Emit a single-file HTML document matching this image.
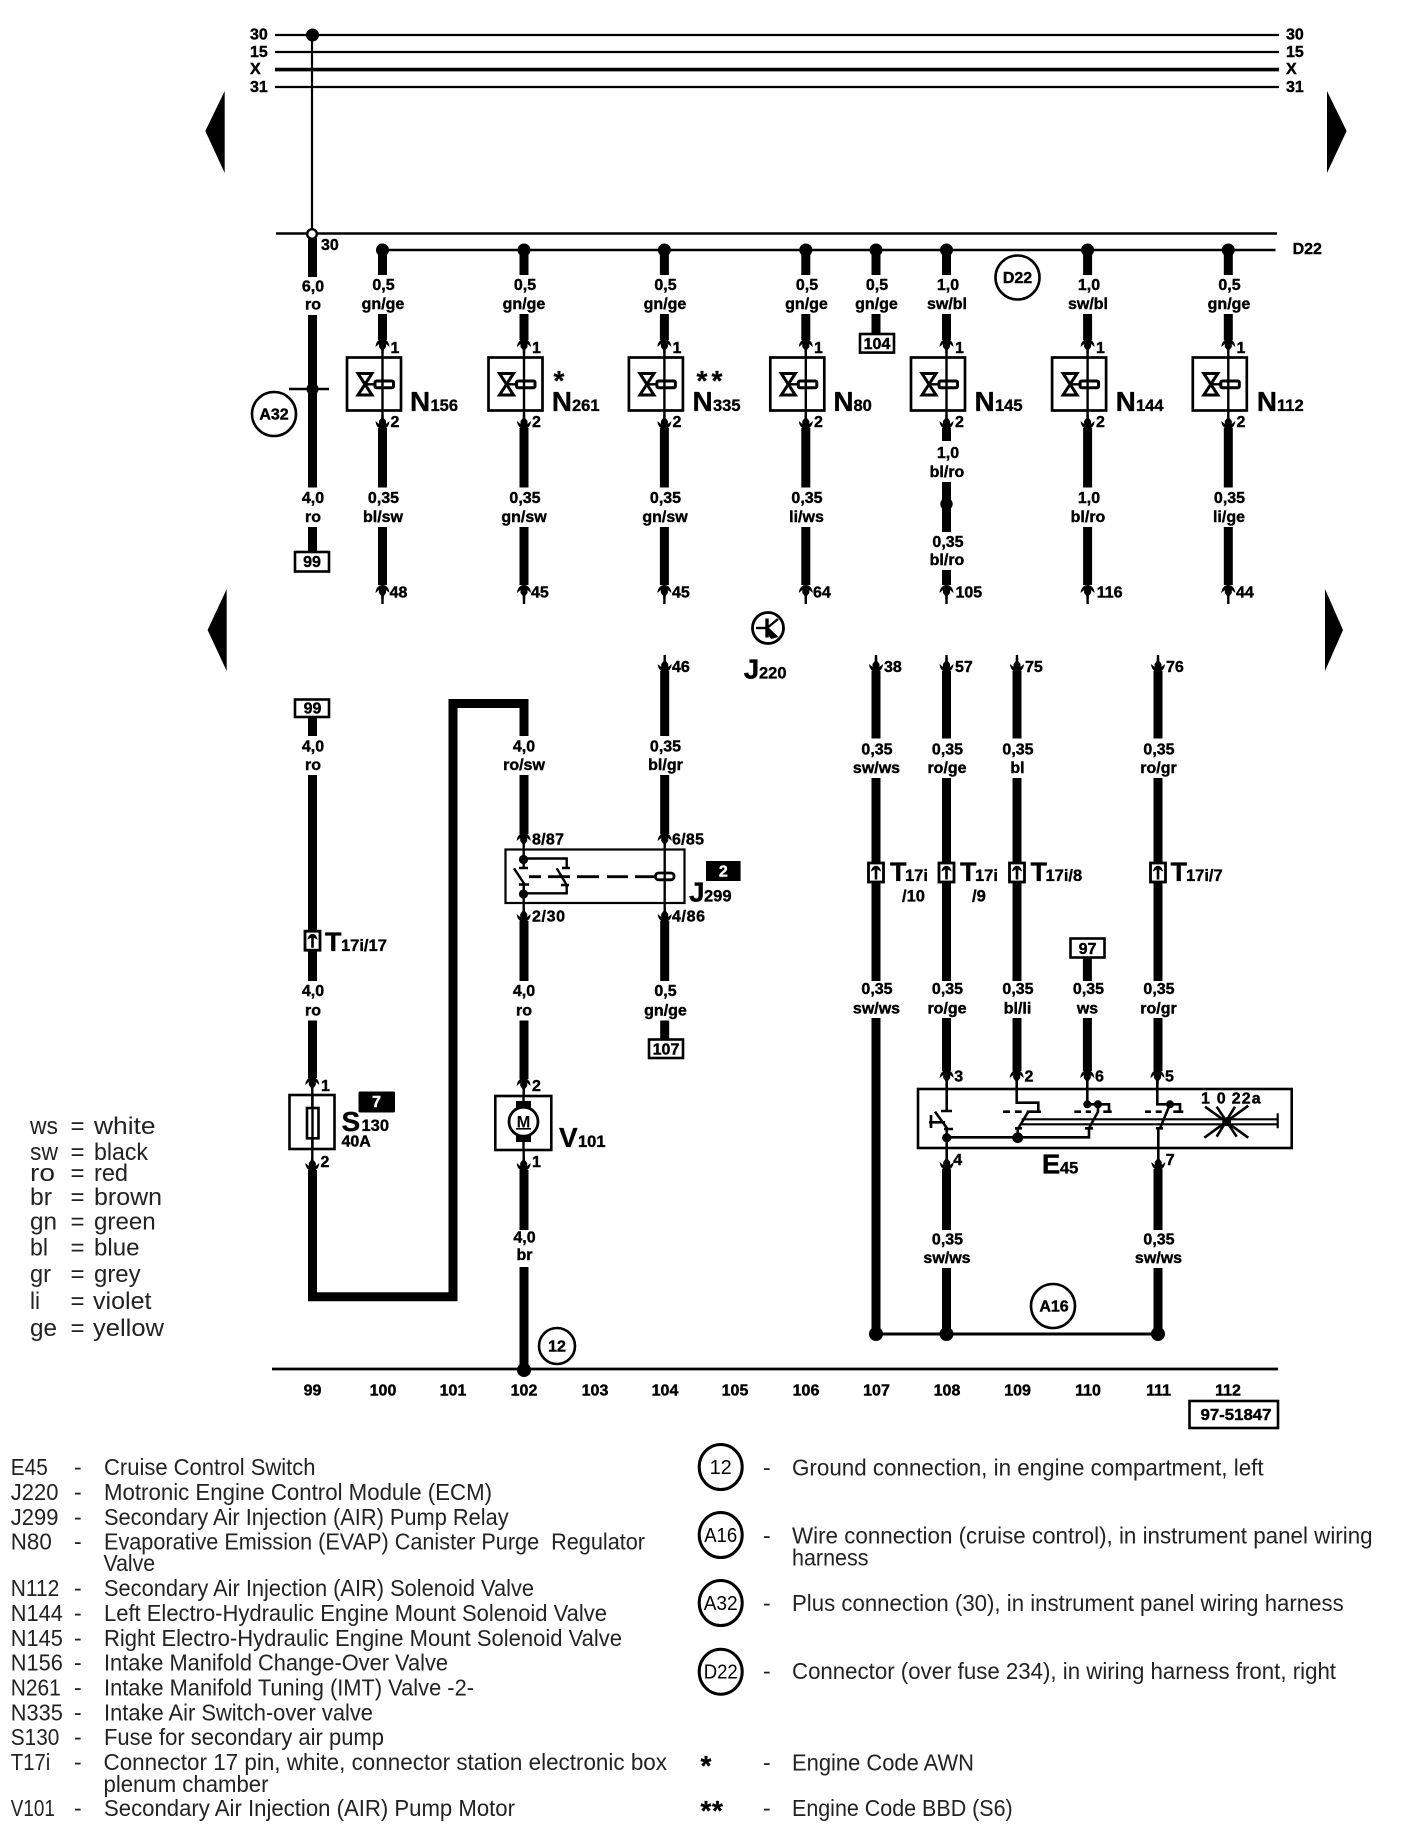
<!DOCTYPE html>
<html><head><meta charset="utf-8"><title>Wiring diagram</title>
<style>
html,body{margin:0;padding:0;background:#fff}
svg{display:block}
text{font-family:"Liberation Sans",sans-serif;fill:#000}
.b text,text.b{font-weight:bold;font-size:16px;stroke:#000;stroke-width:.4}
.m text{text-anchor:middle}
.n{font-weight:bold;font-size:28px;stroke:#000;stroke-width:.3}
.s{font-weight:bold;font-size:16.5px;stroke:#000;stroke-width:.35}
.k{font-weight:bold;font-size:27px;stroke:#000;stroke-width:.3}
.l text{font-size:23px;fill:#222}
.g text{font-size:24px;fill:#222}
.w{fill:none;stroke:#000;stroke-width:9}
.t{fill:none;stroke:#000;stroke-width:2.4}
</style></head><body>
<svg xmlns="http://www.w3.org/2000/svg" width="1408" height="1840" viewBox="0 0 1408 1840">
<defs>
<path id="au" d="M-7 8C-6.5 2-3 0 0 0S6.500 2 7 8L3.500 5V8L1.200 11V14H-1.200V11L-3.500 8V5Z"/>
<path id="ad" d="M-7-8C-6.500-2-3 0 0 0S6.500-2 7-8L3.500-5V-8L1.200-11V-14H-1.200V-11L-3.500-8V-5Z"/>
<g id="c"><rect x="-7.5" y="-9.500" width="15" height="19" fill="#fff" stroke="#000" stroke-width="2.800"/><path d="M-5-1C-4.500-5-2-6.800 0-6.800S4.500-5 5-1L1.300-3V7H-1.300V-3Z"/></g>
<g id="v">
<path class="t" d="M0 340V428"/>
<use href="#au" y="339"/><use href="#ad" y="429"/>
<rect x="-35.500" y="357.500" width="54" height="53" fill="none" stroke="#000" stroke-width="2.700"/>
<path d="M-24.500 373.500H-10.500L-17.500 384.300L-10.500 395H-24.500L-17.500 384.300Z" fill="none" stroke="#000" stroke-width="3"/>
<path class="t" d="M-17.500 384.300H-7.500"/>
<rect x="-7.500" y="381" width="18.500" height="6.800" rx="1.500" fill="none" stroke="#000" stroke-width="3"/>
</g>
<g id="ta"><path class="w" d="M0 250V275M0 314V340"/><circle cy="250" r="6.500"/><use href="#v"/></g>
<g id="tb"><path class="w" d="M0 428V487.500M0 527V585"/><path class="t" d="M0 585V604"/><use href="#au" y="585"/></g>
<g id="da"><path class="t" d="M0 655V671"/><use href="#ad" y="672"/></g>
</defs>

<!-- bus lines -->
<path d="M275 35H1279M275 52H1279M275 87H1279" stroke="#000" stroke-width="2.200" fill="none"/>
<path d="M275 69.600H1279" stroke="#000" stroke-width="3.600" fill="none"/>
<path d="M312 35V234" stroke="#000" stroke-width="2.200"/>
<circle cx="312.500" cy="35" r="6.500"/>
<path d="M276 233.500H1277" stroke="#000" stroke-width="2.600"/>
<path d="M382 250H1275.500" stroke="#000" stroke-width="2.600"/>
<g class="b">
<text x="250" y="39.600">30</text><text x="250" y="57">15</text><text x="250" y="74">X</text><text x="250" y="91.800">31</text>
<text x="1286" y="39.600">30</text><text x="1286" y="57">15</text><text x="1286" y="74">X</text><text x="1286" y="91.800">31</text>
<text x="321" y="250">30</text><text x="1292.600" y="254">D22</text>
</g>

<!-- page arrows -->
<path d="M224.700 91V173L205.300 131Z"/><path d="M1327 91V173L1346.600 131Z"/>
<path d="M226.700 589V671L207.600 630Z"/><path d="M1325 589V671L1343 630Z"/>

<!-- column 99 top -->
<path class="w" d="M312.500 238V277M312.500 315V487.500M312.500 527V552"/>
<circle cx="312" cy="234" r="4.800" fill="#fff" stroke="#000" stroke-width="2.400"/>
<path d="M289 389H329" stroke="#000" stroke-width="2.600"/><circle cx="312.500" cy="389" r="6"/>
<circle cx="274" cy="414" r="22" fill="none" stroke="#000" stroke-width="2.600"/>
<rect x="295" y="552" width="34" height="19.500" fill="#fff" stroke="#000" stroke-width="2.600"/>

<use href="#ta" x="382.500"/><use href="#tb" x="382.500"/>
<use href="#ta" x="524"/><use href="#tb" x="524"/>
<use href="#ta" x="664.400"/><use href="#tb" x="664.400"/>
<use href="#ta" x="805.800"/><use href="#tb" x="805.800"/>
<use href="#ta" x="946.500"/>
<use href="#ta" x="1087.600"/><use href="#tb" x="1087.600"/>
<use href="#ta" x="1228.300"/><use href="#tb" x="1228.300"/>
<!-- col 104 stub -->
<path class="w" d="M876 250V275M876 314V334"/><circle cx="876" cy="250" r="6.500"/>
<rect x="860" y="334" width="34" height="18.600" fill="#fff" stroke="#000" stroke-width="2.600"/>
<!-- N145 lower -->
<path class="w" d="M946.500 428V441M946.500 482V532M946.500 570V585"/>
<circle cx="946.500" cy="504" r="6.200"/>
<path class="t" d="M946.500 585V604"/><use href="#au" x="946.500" y="585"/>
<circle cx="1017.500" cy="277.500" r="22" fill="none" stroke="#000" stroke-width="2.600"/>

<g class="b m">
<text x="313" y="291.400">6,0</text><text x="313" y="309.600">ro</text>
<text x="313" y="503">4,0</text><text x="313" y="522">ro</text>
<text x="312" y="567">99</text>
<text x="274" y="419.500">A32</text>
<text x="383.500" y="290">0,5</text><text x="383" y="308.800">gn/ge</text><text x="383.500" y="503">0,35</text><text x="383" y="522">bl/sw</text>
<text x="525" y="290">0,5</text><text x="524" y="308.800">gn/ge</text><text x="525" y="503">0,35</text><text x="524" y="522">gn/sw</text>
<text x="665.500" y="290">0,5</text><text x="665" y="308.800">gn/ge</text><text x="665.500" y="503">0,35</text><text x="665" y="522">gn/sw</text>
<text x="807" y="290">0,5</text><text x="806.500" y="308.800">gn/ge</text><text x="807" y="503">0,35</text><text x="806.500" y="522">li/ws</text>
<text x="877" y="290">0,5</text><text x="876.500" y="308.800">gn/ge</text><text x="877" y="349">104</text>
<text x="948" y="290">1,0</text><text x="947" y="308.800">sw/bl</text>
<text x="948" y="458">1,0</text><text x="947" y="477">bl/ro</text>
<text x="948" y="547">0,35</text><text x="947" y="565">bl/ro</text>
<text x="1089" y="290">1,0</text><text x="1088" y="308.800">sw/bl</text><text x="1089" y="503">1,0</text><text x="1088" y="522">bl/ro</text>
<text x="1229.500" y="290">0,5</text><text x="1229" y="308.800">gn/ge</text><text x="1229.500" y="503">0,35</text><text x="1229" y="522">li/ge</text>
<text x="1017.500" y="283">D22</text>
</g>
<g class="b">
<text x="390.500" y="353">1</text><text x="390.500" y="427">2</text><text x="389.600" y="597.500">48</text>
<text x="532" y="353">1</text><text x="532" y="427">2</text><text x="531" y="597.500">45</text>
<text x="672.500" y="353">1</text><text x="672.500" y="427">2</text><text x="672" y="597.500">45</text>
<text x="814" y="353">1</text><text x="814" y="427">2</text><text x="813" y="597.500">64</text>
<text x="955" y="353">1</text><text x="955" y="427">2</text><text x="955.500" y="597.500">105</text>
<text x="1096" y="353">1</text><text x="1096" y="427">2</text><text x="1096.700" y="597.500">116</text>
<text x="1236.500" y="353">1</text><text x="1236.500" y="427">2</text><text x="1236" y="597.500">44</text>
</g>
<g>
<text class="n" x="410" y="411">N</text><text class="s" x="430.500" y="411">156</text>
<text class="n" x="551.700" y="411">N</text><text class="s" x="572" y="411">261</text>
<text class="n" x="692.500" y="411">N</text><text class="s" x="713" y="411">335</text>
<text class="n" x="833.400" y="411">N</text><text class="s" x="853.500" y="411">80</text>
<text class="n" x="974.500" y="411">N</text><text class="s" x="995" y="411">145</text>
<text class="n" x="1115.600" y="411">N</text><text class="s" x="1136" y="411">144</text>
<text class="n" x="1256.700" y="411">N</text><text class="s" x="1277" y="411">112</text>
<text class="n" x="559" y="390" text-anchor="middle">*</text>
<text class="n" x="702" y="390" text-anchor="middle">*</text><text class="n" x="717" y="390" text-anchor="middle">*</text>
</g>

<!-- J220 -->
<circle cx="768" cy="628" r="15.500" fill="none" stroke="#000" stroke-width="2.800"/>
<path d="M756 628H767" stroke="#000" stroke-width="2.400"/>
<path d="M767 618.500V637.500" stroke="#000" stroke-width="3.400"/>
<path d="M767 628L778 619" stroke="#000" stroke-width="2.400"/>
<path d="M767 626L778.500 637L771 639L766 632Z"/>
<text class="n" x="743.800" y="678.700">J</text><text class="s" x="759" y="678.700">220</text>

<!-- lower columns -->
<rect x="295" y="699.500" width="34" height="17.500" fill="#fff" stroke="#000" stroke-width="2.600"/>
<path class="w" d="M312.500 717V736M312.500 775V981M312.500 1020.500V1078"/>
<use href="#c" x="312.500" y="940.700"/>
<path class="w" d="M312.500 1170V1296.700H453V703.500H524"/>
<path class="t" d="M312.300 1078V1168"/>
<use href="#au" x="312.300" y="1077"/><use href="#ad" x="312.300" y="1171"/>
<rect x="289.500" y="1095" width="45" height="54" fill="none" stroke="#000" stroke-width="2.600"/>
<rect x="307" y="1108" width="11.500" height="30.300" fill="#fff" stroke="#000" stroke-width="2.600"/>
<path class="t" d="M312.500 1095V1149"/>

<path class="w" d="M524 699V736M524 775V834M524 921V981M524 1020.500V1079M524 1170V1230M524 1267V1370"/>
<circle cx="524" cy="1370" r="7"/>
<path d="M272 1369H1278" stroke="#000" stroke-width="2.800"/>
<circle cx="557" cy="1346" r="18" fill="none" stroke="#000" stroke-width="2.600"/>

<!-- relay -->
<rect x="505.500" y="849.500" width="179" height="53.500" fill="none" stroke="#000" stroke-width="2.200"/>
<path class="t" d="M523.700 834V868M523.700 885V921M664.700 834V921"/>
<use href="#au" x="523.700" y="833"/><use href="#ad" x="523.700" y="922"/>
<use href="#au" x="664.700" y="833"/><use href="#ad" x="664.700" y="922"/>
<circle cx="523.500" cy="859.500" r="4.600"/><circle cx="523.500" cy="894" r="4.600"/>
<path class="t" d="M523.500 858.500H566.700V868M519 868H528M562 868H570M514 868.300L525 885M519 884.500H529M556.700 868.300L566.700 885M561 885H569M523.500 893.300H566.700V885M523.700 885V894"/>
<path d="M529 876.700H541M548 876.700H570M577 876.700H599M607 876.700H628M635 876.700H655" stroke="#000" stroke-width="2.800" fill="none"/>
<rect x="655.500" y="873" width="18.500" height="6.800" rx="3" fill="#fff" stroke="#000" stroke-width="2.800"/>
<path class="t" d="M664.700 872V881"/>
<rect x="706" y="861" width="34.600" height="20"/>
<text class="b" x="723.300" y="876.500" text-anchor="middle" style="fill:#fff;stroke:#fff">2</text>
<text class="n" x="689" y="901.700">J</text><text class="s" x="704" y="901.700">299</text>

<use href="#da" x="664.700"/>
<path class="w" d="M664.700 671V736M664.700 775V834M664.700 921V981M664.700 1020.500V1039"/>
<rect x="649" y="1039.500" width="34" height="18.500" fill="#fff" stroke="#000" stroke-width="2.600"/>

<!-- motor -->
<rect x="495.300" y="1096" width="56" height="54" fill="none" stroke="#000" stroke-width="2.600"/>
<path class="t" d="M523.700 1079V1096M523.700 1150V1169"/>
<use href="#au" x="523.700" y="1078"/><use href="#ad" x="523.700" y="1171"/>
<path d="M516 1101H531V1109H516ZM516 1134H531V1142H516Z"/><path d="M523.500 1096V1102M523.500 1141V1150" stroke="#000" stroke-width="2.400"/>
<circle cx="523.500" cy="1121.700" r="14.500" fill="#fff" stroke="#000" stroke-width="2.800"/>
<text x="523.500" y="1127.500" text-anchor="middle" style="font-weight:bold;font-size:16.500px">M</text>
<path d="M516 1128.800H531" stroke="#000" stroke-width="1.600"/>

<!-- right lower columns -->
<use href="#da" x="876"/><use href="#da" x="946.500"/><use href="#da" x="1017"/><use href="#da" x="1158"/>
<path class="w" d="M876 671V738.500M876 778V981M876 1018V1334"/>
<path class="w" d="M946.500 671V738.500M946.500 778V981M946.500 1018V1071M946.500 1169V1230M946.500 1268V1334"/>
<path class="w" d="M1017 671V738.500M1017 778V981M1017 1018V1071"/>
<path class="w" d="M1158 671V738.500M1158 778V981M1158 1018V1071M1158 1169V1230M1158 1268V1334"/>
<path class="w" d="M1087.400 958V981M1087.400 1018V1071"/>
<use href="#c" x="876" y="872.500"/><use href="#c" x="946.500" y="872.500"/><use href="#c" x="1017" y="872.500"/><use href="#c" x="1158" y="872.500"/>
<path d="M876 1334H1158" stroke="#000" stroke-width="3"/>
<circle cx="876" cy="1334" r="7"/><circle cx="946.500" cy="1334" r="7"/><circle cx="1158" cy="1334" r="7"/>
<circle cx="1053" cy="1306" r="22" fill="none" stroke="#000" stroke-width="2.600"/>
<rect x="1070.500" y="938.500" width="34" height="19" fill="#fff" stroke="#000" stroke-width="2.600"/>

<!-- E45 -->
<rect x="918" y="1089" width="373.700" height="59" fill="none" stroke="#000" stroke-width="2.600"/>
<use href="#au" x="946.700" y="1070"/><use href="#au" x="1016.700" y="1070"/><use href="#au" x="1087.300" y="1070"/><use href="#au" x="1157.500" y="1070"/>
<use href="#ad" x="946.700" y="1170"/><use href="#ad" x="1158.300" y="1170"/>
<g fill="none" stroke="#000" stroke-width="2.600">
<path d="M946.700 1071V1111M941 1111H952M929 1122.300H945M931 1115V1128M935 1111.700L948.300 1130M944 1129H953M946.700 1130V1168"/>
<path d="M946.700 1137.300H1089V1128M1016.700 1071V1102.700H1038.300V1111.700M1003 1111.700H1010M1015 1111.700H1021.700M1026.700 1111.700H1041M1028.300 1111.700L1018.300 1128.300M1015 1128.300H1022M1017.700 1128.300V1137"/>
<path d="M1087.300 1071V1104.300H1109V1111.700M1074.300 1111.700H1081M1085.700 1111.700H1091M1103.300 1111.700H1111.700M1098 1104.300V1111.700L1089 1128.300M1085 1128.300H1093"/>
<path d="M1157.300 1071V1104.300H1180V1111.700M1145 1111.700H1151M1155.700 1111.700H1161.700M1173.300 1111.700H1183.300M1170 1104.300L1160 1128.300M1156 1128.300H1163M1158.300 1128.300V1168"/>
<path d="M1021.700 1119.300H1277.700M1021.700 1124.300H1277.700M1277.700 1113.300V1128.300" stroke-width="2.200"/>
<path d="M1205 1106.700L1248.300 1137.700M1248.300 1105.700L1204.300 1137.700M1216.700 1106.700L1236.700 1136.700M1235 1106.700L1216.700 1136.700"/>
</g>
<circle cx="946.700" cy="1137.700" r="4.600"/><circle cx="1017.700" cy="1137.700" r="5.400"/>
<circle cx="1087.300" cy="1104.300" r="4"/><circle cx="1098" cy="1104.300" r="4"/><circle cx="1170" cy="1104.300" r="4"/><circle cx="1226.700" cy="1121.700" r="4.500"/>
<g class="b">
<text x="1201" y="1103.300">1</text><text x="1216.700" y="1103.300">0</text><text x="1231.700" y="1103.300" textLength="29">22a</text>
<text x="954.300" y="1081.700">3</text><text x="1024.500" y="1081.700">2</text><text x="1095" y="1081.700">6</text><text x="1165" y="1081.700">5</text>
<text x="953.300" y="1165">4</text><text x="1165.700" y="1165">7</text>
</g>
<text class="n" x="1041.700" y="1173.300">E</text><text class="s" x="1060" y="1173.300">45</text>

<!-- connector labels -->
<text class="k" x="325" y="951">T</text><text class="s" x="341" y="951">17i/17</text>
<text class="k" x="890" y="881">T</text><text class="s" x="905" y="881">17i</text><text class="s" x="902" y="901.700">/10</text>
<text class="k" x="960" y="881">T</text><text class="s" x="975" y="881">17i</text><text class="s" x="972" y="901.700">/9</text>
<text class="k" x="1030.500" y="881">T</text><text class="s" x="1045.500" y="881">17i/8</text>
<text class="k" x="1170.500" y="881">T</text><text class="s" x="1186" y="881">17i/7</text>

<!-- S130 / V101 -->
<rect x="358.500" y="1091.500" width="36.500" height="21" rx="1.500"/>
<text class="b" x="376.500" y="1107" text-anchor="middle" style="fill:#fff;stroke:#fff">7</text>
<text class="n" x="341.500" y="1131">S</text><text class="s" x="361.500" y="1131">130</text>
<text class="b" x="341.500" y="1146.500">40A</text>
<text class="n" x="559" y="1147">V</text><text class="s" x="578" y="1147">101</text>

<g class="b m">
<text x="312.500" y="713.500">99</text>
<text x="313" y="751.600">4,0</text><text x="313" y="770">ro</text>
<text x="313" y="996">4,0</text><text x="313" y="1015.400">ro</text>
<text x="524" y="751.600">4,0</text><text x="524" y="770">ro/sw</text>
<text x="524" y="996">4,0</text><text x="524" y="1015.400">ro</text>
<text x="524.500" y="1242.500">4,0</text><text x="524.500" y="1260">br</text>
<text x="665.500" y="751.600">0,35</text><text x="665.500" y="770">bl/gr</text>
<text x="665.500" y="996">0,5</text><text x="665.500" y="1015.400">gn/ge</text>
<text x="666" y="1054.500">107</text>
<text x="877" y="754.700">0,35</text><text x="876.500" y="773">sw/ws</text>
<text x="877" y="994">0,35</text><text x="876.500" y="1013.400">sw/ws</text>
<text x="947.500" y="754.700">0,35</text><text x="947" y="773">ro/ge</text>
<text x="947.500" y="994">0,35</text><text x="947" y="1013.400">ro/ge</text>
<text x="947.500" y="1244.500">0,35</text><text x="947" y="1263">sw/ws</text>
<text x="1018" y="754.700">0,35</text><text x="1017.500" y="773">bl</text>
<text x="1018" y="994">0,35</text><text x="1017.500" y="1013.400">bl/li</text>
<text x="1088.500" y="994">0,35</text><text x="1087.500" y="1013.400">ws</text>
<text x="1087.500" y="954">97</text>
<text x="1159" y="754.700">0,35</text><text x="1158.500" y="773">ro/gr</text>
<text x="1159" y="994">0,35</text><text x="1158.500" y="1013.400">ro/gr</text>
<text x="1159" y="1244.500">0,35</text><text x="1158.500" y="1263">sw/ws</text>
<text x="1054" y="1311.500">A16</text>
<text x="557" y="1351.500">12</text>
<text x="312.500" y="1395.400">99</text><text x="383" y="1395.400">100</text><text x="453" y="1395.400">101</text><text x="524" y="1395.400">102</text><text x="595" y="1395.400">103</text><text x="665" y="1395.400">104</text><text x="735" y="1395.400">105</text><text x="806" y="1395.400">106</text><text x="876.500" y="1395.400">107</text><text x="947" y="1395.400">108</text><text x="1017.600" y="1395.400">109</text><text x="1088" y="1395.400">110</text><text x="1158.600" y="1395.400">111</text><text x="1228" y="1395.400">112</text>
</g>
<g class="b">
<text x="672" y="672">46</text><text x="884" y="672">38</text><text x="955" y="672">57</text><text x="1025" y="672">75</text><text x="1166" y="672">76</text>
<text x="532" y="844.500" textLength="32">8/87</text><text x="672" y="844.500" textLength="32">6/85</text>
<text x="532" y="921.500" textLength="33">2/30</text><text x="672" y="921.500" textLength="33">4/86</text>
<text x="321" y="1091">1</text><text x="320.500" y="1167">2</text>
<text x="532" y="1091">2</text><text x="532" y="1167">1</text>
</g>
<rect x="1189.500" y="1401" width="88.500" height="27" fill="none" stroke="#000" stroke-width="2.600"/>
<text class="b" x="1200.500" y="1420" textLength="71" lengthAdjust="spacingAndGlyphs">97-51847</text>

<!-- colour legend -->
<g class="g">
<text x="30" y="1134" textLength="28" lengthAdjust="spacingAndGlyphs">ws</text><text x="70.500" y="1134">=</text><text x="94" y="1134" textLength="61.600" lengthAdjust="spacingAndGlyphs">white</text>
<text x="30" y="1160" textLength="28" lengthAdjust="spacingAndGlyphs">sw</text><text x="70.500" y="1160">=</text><text x="94" y="1160" textLength="54" lengthAdjust="spacingAndGlyphs">black</text>
<text x="30" y="1181" textLength="25" lengthAdjust="spacingAndGlyphs">ro</text><text x="70.500" y="1181">=</text><text x="94" y="1181" textLength="34" lengthAdjust="spacingAndGlyphs">red</text>
<text x="30" y="1205" textLength="22" lengthAdjust="spacingAndGlyphs">br</text><text x="70.500" y="1205">=</text><text x="94" y="1205" textLength="68" lengthAdjust="spacingAndGlyphs">brown</text>
<text x="30" y="1229.700" textLength="27" lengthAdjust="spacingAndGlyphs">gn</text><text x="70.500" y="1229.700">=</text><text x="94" y="1229.700" textLength="61.700" lengthAdjust="spacingAndGlyphs">green</text>
<text x="30" y="1255.700" textLength="18" lengthAdjust="spacingAndGlyphs">bl</text><text x="70.500" y="1255.700">=</text><text x="94" y="1255.700" textLength="45.500" lengthAdjust="spacingAndGlyphs">blue</text>
<text x="30" y="1282" textLength="21" lengthAdjust="spacingAndGlyphs">gr</text><text x="70.500" y="1282">=</text><text x="94" y="1282" textLength="46.600" lengthAdjust="spacingAndGlyphs">grey</text>
<text x="30" y="1308.800" textLength="10" lengthAdjust="spacingAndGlyphs">li</text><text x="70.500" y="1308.800">=</text><text x="93" y="1308.800" textLength="58.500" lengthAdjust="spacingAndGlyphs">violet</text>
<text x="30" y="1336" textLength="27" lengthAdjust="spacingAndGlyphs">ge</text><text x="70.500" y="1336">=</text><text x="93" y="1336" textLength="71" lengthAdjust="spacingAndGlyphs">yellow</text>
</g>

<!-- component list -->
<g class="l">
<text x="10.800" y="1475" textLength="37" lengthAdjust="spacingAndGlyphs">E45</text><text x="74" y="1475">-</text><text x="104" y="1475" textLength="211.500" lengthAdjust="spacingAndGlyphs">Cruise Control Switch</text>
<text x="10.800" y="1500" textLength="47.600" lengthAdjust="spacingAndGlyphs">J220</text><text x="74" y="1500">-</text><text x="104" y="1500" textLength="388" lengthAdjust="spacingAndGlyphs">Motronic Engine Control Module (ECM)</text>
<text x="10.800" y="1525" textLength="47.600" lengthAdjust="spacingAndGlyphs">J299</text><text x="74" y="1525">-</text><text x="104" y="1525" textLength="404.600" lengthAdjust="spacingAndGlyphs">Secondary Air Injection (AIR) Pump Relay</text>
<text x="10.800" y="1549.700" textLength="41" lengthAdjust="spacingAndGlyphs">N80</text><text x="74" y="1549.700">-</text><text x="104" y="1549.700" textLength="541" lengthAdjust="spacingAndGlyphs" xml:space="preserve">Evaporative Emission (EVAP) Canister Purge  Regulator</text>
<text x="103.500" y="1571" textLength="51.600" lengthAdjust="spacingAndGlyphs">Valve</text>
<text x="10.800" y="1596" textLength="48.500" lengthAdjust="spacingAndGlyphs">N112</text><text x="74" y="1596">-</text><text x="104" y="1596" textLength="430" lengthAdjust="spacingAndGlyphs">Secondary Air Injection (AIR) Solenoid Valve</text>
<text x="10.800" y="1621" textLength="52" lengthAdjust="spacingAndGlyphs">N144</text><text x="74" y="1621">-</text><text x="104" y="1621" textLength="503" lengthAdjust="spacingAndGlyphs">Left Electro-Hydraulic Engine Mount Solenoid Valve</text>
<text x="10.800" y="1646" textLength="52" lengthAdjust="spacingAndGlyphs">N145</text><text x="74" y="1646">-</text><text x="104" y="1646" textLength="518" lengthAdjust="spacingAndGlyphs">Right Electro-Hydraulic Engine Mount Solenoid Valve</text>
<text x="10.800" y="1670.700" textLength="52" lengthAdjust="spacingAndGlyphs">N156</text><text x="74" y="1670.700">-</text><text x="104" y="1670.700" textLength="344" lengthAdjust="spacingAndGlyphs">Intake Manifold Change-Over Valve</text>
<text x="10.800" y="1695.700" textLength="50" lengthAdjust="spacingAndGlyphs">N261</text><text x="74" y="1695.700">-</text><text x="104" y="1695.700" textLength="370" lengthAdjust="spacingAndGlyphs">Intake Manifold Tuning (IMT) Valve -2-</text>
<text x="10.800" y="1720.700" textLength="52" lengthAdjust="spacingAndGlyphs">N335</text><text x="74" y="1720.700">-</text><text x="104" y="1720.700" textLength="269" lengthAdjust="spacingAndGlyphs">Intake Air Switch-over valve</text>
<text x="10.800" y="1745" textLength="48.500" lengthAdjust="spacingAndGlyphs">S130</text><text x="74" y="1745">-</text><text x="104" y="1745" textLength="280" lengthAdjust="spacingAndGlyphs">Fuse for secondary air pump</text>
<text x="10.800" y="1770" textLength="39.500" lengthAdjust="spacingAndGlyphs">T17i</text><text x="74" y="1770">-</text><text x="103.500" y="1770" textLength="563.500" lengthAdjust="spacingAndGlyphs">Connector 17 pin, white, connector station electronic box</text>
<text x="103.500" y="1792" textLength="165" lengthAdjust="spacingAndGlyphs">plenum chamber</text>
<text x="10.800" y="1816" textLength="44" lengthAdjust="spacingAndGlyphs">V101</text><text x="74" y="1816">-</text><text x="104" y="1816" textLength="411" lengthAdjust="spacingAndGlyphs">Secondary Air Injection (AIR) Pump Motor</text>

<text x="763" y="1475.700">-</text><text x="792" y="1475.700" textLength="471.600" lengthAdjust="spacingAndGlyphs">Ground connection, in engine compartment, left</text>
<text x="763" y="1543.700">-</text><text x="792" y="1543.700" textLength="580.600" lengthAdjust="spacingAndGlyphs">Wire connection (cruise control), in instrument panel wiring</text>
<text x="792" y="1565.700" textLength="76.500" lengthAdjust="spacingAndGlyphs">harness</text>
<text x="763" y="1611">-</text><text x="792" y="1611" textLength="551.700" lengthAdjust="spacingAndGlyphs">Plus connection (30), in instrument panel wiring harness</text>
<text x="763" y="1679">-</text><text x="792" y="1679" textLength="544" lengthAdjust="spacingAndGlyphs">Connector (over fuse 234), in wiring harness front, right</text>
<text x="763" y="1770.700">-</text><text x="792" y="1770.700" textLength="182" lengthAdjust="spacingAndGlyphs">Engine Code AWN</text>
<text x="763" y="1816">-</text><text x="792" y="1816" textLength="220.700" lengthAdjust="spacingAndGlyphs">Engine Code BBD (S6)</text>
</g>
<g fill="none" stroke="#000" stroke-width="3">
<ellipse cx="720.700" cy="1467" rx="21.500" ry="22.500"/><ellipse cx="720.700" cy="1535" rx="21.500" ry="22.500"/><ellipse cx="720.700" cy="1603" rx="21.500" ry="22.500"/><ellipse cx="720.700" cy="1671.700" rx="21.500" ry="22.500"/>
</g>
<g style="font-size:20px" text-anchor="middle">
<text x="720.700" y="1474">12</text>
<text x="720.700" y="1542" textLength="33" lengthAdjust="spacingAndGlyphs">A16</text>
<text x="720.700" y="1610" textLength="34" lengthAdjust="spacingAndGlyphs">A32</text>
<text x="720.700" y="1678.700" textLength="34" lengthAdjust="spacingAndGlyphs">D22</text>
</g>
<text class="n" x="706" y="1775" text-anchor="middle">*</text>
<text class="n" x="706" y="1820" text-anchor="middle">*</text><text class="n" x="717.500" y="1820" text-anchor="middle">*</text>
</svg>
</body></html>
